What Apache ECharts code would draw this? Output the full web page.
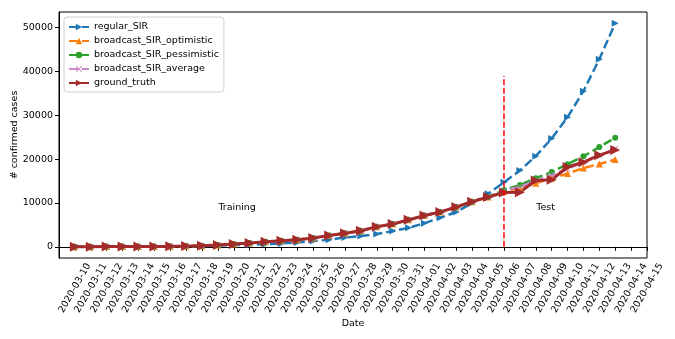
<!DOCTYPE html>
<html><head><meta charset="utf-8">
<script src="https://cdn.jsdelivr.net/npm/echarts@6/dist/echarts.min.js"></script>
<style>html,body{margin:0;padding:0;background:#fff}#c{width:675px;height:339px}</style>
</head><body><div id="c"></div>
<script>
// ---- data ----
const axisDates = ['2020-03-10','2020-03-11','2020-03-12','2020-03-13','2020-03-14','2020-03-15','2020-03-16','2020-03-17','2020-03-18','2020-03-19','2020-03-20','2020-03-21','2020-03-22','2020-03-23','2020-03-24','2020-03-25','2020-03-26','2020-03-27','2020-03-28','2020-03-29','2020-03-30','2020-03-31','2020-04-01','2020-04-02','2020-04-03','2020-04-04','2020-04-05','2020-04-06','2020-04-07','2020-04-08','2020-04-09','2020-04-10','2020-04-11','2020-04-12','2020-04-13','2020-04-14','2020-04-15'];
const dataDates = ['2020-03-10','2020-03-11','2020-03-12','2020-03-13','2020-03-14','2020-03-15','2020-03-16','2020-03-17','2020-03-18','2020-03-19','2020-03-20','2020-03-21','2020-03-22','2020-03-23','2020-03-24','2020-03-25','2020-03-26','2020-03-27','2020-03-28','2020-03-29','2020-03-30','2020-03-31','2020-04-01','2020-04-02','2020-04-03','2020-04-04','2020-04-05','2020-04-06','2020-04-07','2020-04-08','2020-04-09','2020-04-10','2020-04-11','2020-04-12','2020-04-13'];
const regularSIR = [0,10,20,30,50,70,100,140,200,280,390,480,620,770,1000,1300,1620,2150,2470,2930,3630,4320,5400,6650,7950,10000,12100,14700,17400,20670,24700,29560,35500,42800,51000];
const optimistic = [30,40,50,60,70,90,110,170,270,420,650,850,1150,1380,1620,2010,2600,3080,3650,4600,5200,6150,7150,7950,9100,10300,11350,12600,13300,14500,15650,16700,17950,18900,19900];
const pessimistic = [30,40,50,60,70,90,110,170,270,420,650,850,1150,1380,1620,2010,2600,3080,3650,4600,5200,6150,7150,7950,9100,10300,11350,12950,14100,15650,17050,18850,20650,22750,24900];
const average = [30,40,50,60,70,90,110,170,270,420,650,850,1150,1380,1620,2010,2600,3080,3650,4600,5200,6150,7150,7950,9100,10300,11350,12750,13700,15050,16350,17750,19300,20800,22400];
const groundTruth = [30,40,50,60,70,90,110,170,270,420,650,850,1150,1380,1620,2010,2600,3080,3650,4600,5200,6150,7150,7950,9100,10300,11350,12400,12450,15150,15300,18200,19300,20900,22100];
const yTicks = [0,10000,20000,30000,40000,50000];
const splitDate = '2020-04-06';
const splitRange = [0, 39000];
const notes = [{text:'Training', date:'2020-03-19', value:9000},{text:'Test', date:'2020-04-08', value:9000}];

// ---- chart ----
const FONT = 'DejaVu Sans';
const FS = 9.5;
const pairs = vals => dataDates.map((d,i)=>[d, vals[i]]);
const allVals = [].concat(regularSIR, optimistic, pessimistic, average, groundTruth);
const vmin = Math.min(...allVals), vmax = Math.max(...allVals);
const pad = (vmax - vmin) * 0.05;
const xPath = 'path://M0,1L1,0L5,4L9,0L10,1L6,5L10,9L9,10L5,6L1,10L0,9L4,5Z';

function lineSeries(name, vals, color, dashed, symbol, size, width, rot) {
  return {
    name, type:'line', data: pairs(vals), symbol, symbolSize: size, symbolRotate: rot||0,
    showSymbol: true,
    lineStyle: {color, width, type: dashed ? [9,4] : 'solid'},
    itemStyle: {color, borderWidth: 0},
    emphasis: {disabled: true}, animation: false, z: 3
  };
}
const chart = echarts.init(document.getElementById('c'), null, {renderer:'canvas'});
chart.setOption({
  backgroundColor: '#fff',
  animation: false,
  textStyle: {fontFamily: FONT},
  grid: {left: 59, right: 28, top: 12, bottom: 81, outerBoundsMode: 'none', containLabel: false,
         show: true, borderColor: '#000', borderWidth: 1, backgroundColor: 'transparent'},
  legend: {
    orient: 'vertical', left: 64, top: 17,
    data: ['regular_SIR','broadcast_SIR_optimistic','broadcast_SIR_pessimistic','broadcast_SIR_average','ground_truth'],
    itemWidth: 20, itemHeight: 8, itemGap: 4,
    textStyle: {fontFamily: FONT, fontSize: FS, color: '#000'},
    borderColor: '#d0d0d0', borderWidth: 1, borderRadius: 3, padding: [5, 5, 4, 4],
    backgroundColor: 'rgba(255,255,255,0.8)'
  },
  xAxis: {
    type: 'category', boundaryGap: false, data: [''].concat(axisDates),
    name: 'Date', nameLocation: 'middle', nameGap: 61, nameMoveOverlap: false,
    nameTextStyle: {fontFamily: FONT, fontSize: FS, color: '#000'},
    axisLine: {lineStyle: {color: '#000', width: 1}},
    axisTick: {length: 4, lineStyle: {color: '#000'}, interval: (i) => i > 0},
    axisLabel: {interval: (i) => i > 0, rotate: 60, align: 'center', verticalAlign: 'middle', margin: 30, fontFamily: FONT, fontSize: FS, color: '#000'},
    splitLine: {show: false}
  },
  yAxis: {
    type: 'value', min: vmin - pad, max: vmax + pad,
    name: '# confirmed cases', nameLocation: 'middle', nameGap: 39, nameMoveOverlap: false,
    nameTextStyle: {fontFamily: FONT, fontSize: FS, color: '#000'},
    axisLine: {show: true, lineStyle: {color: '#000', width: 1}},
    axisTick: {show: true, length: 4, lineStyle: {color: '#000'}, customValues: yTicks},
    axisLabel: {customValues: yTicks, margin: 6, formatter: v => String(v), fontFamily: FONT, fontSize: FS, color: '#000'},
    splitLine: {show: false}
  },
  series: [
    lineSeries('regular_SIR', regularSIR, '#1f77b4', true, 'triangle', 7, 2.5, -90),
    lineSeries('broadcast_SIR_optimistic', optimistic, '#ff7f0e', true, 'triangle', 7, 2.5, 0),
    lineSeries('broadcast_SIR_pessimistic', pessimistic, '#2ca02c', true, 'circle', 6, 2.5, 0),
    lineSeries('broadcast_SIR_average', average, '#cc88cc', true, xPath, 6, 2.5, 0),
    lineSeries('ground_truth', groundTruth, '#a52a2a', false, 'triangle', 10, 3, -90),
    {
      type: 'line', data: splitRange.map(v => [splitDate, v]), symbol: 'none',
      lineStyle: {color: '#ff0000', width: 1.5, type: [6, 2.5]}, emphasis: {disabled: true}, z: 4, animation: false
    },
    {
      type: 'scatter', data: notes.map(n => ({value: [n.date, n.value], name: n.text})),
      symbol: 'circle', symbolSize: 1, itemStyle: {color: 'rgba(0,0,0,0)'}, silent: true, z: 5,
      label: {show: true, position: 'right', distance: 0, formatter: p => p.name, fontFamily: FONT, fontSize: FS, color: '#000', opacity: 1}
    }
  ]
});
</script></body></html>
